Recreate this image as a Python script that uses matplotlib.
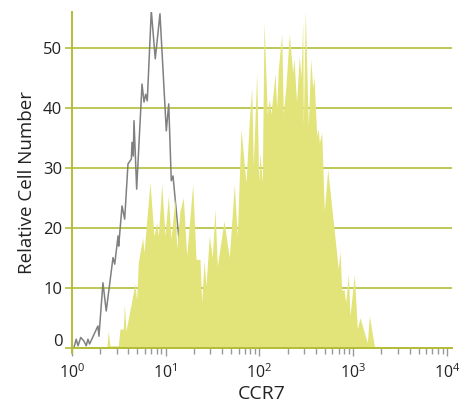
import matplotlib.pyplot as plt
from matplotlib.ticker import LogLocator, FixedLocator
import matplotlib.transforms as mtransforms

plt.rcParams["font.family"] = ["Open Sans", "DejaVu Sans"]
plt.rcParams["mathtext.fontset"] = "custom"
plt.rcParams["mathtext.rm"] = "Open Sans"
plt.rcParams["mathtext.it"] = "Open Sans:italic"
plt.rcParams["mathtext.bf"] = "Open Sans:bold"

# isotype control (grey outline)
ctrl_ccr7 = [1.05, 1.11, 1.16, 1.24, 1.34, 1.42, 1.48, 1.54, 1.89, 1.94,
             2.14, 2.32, 2.74, 2.86, 3.10, 3.15, 3.42, 3.65, 3.96, 4.30,
             4.37, 4.51, 4.59, 4.90, 5.59, 5.87, 6.12, 6.36, 7.02, 7.74,
             8.69, 10.15, 10.77, 11.47, 11.97, 13.53, 14.93, 17.30, 19.09]
ctrl_count = [0.1, 1.5, 0.4, 1.8, 1.2, 0.4, 1.5, 0.7, 3.7, 2.0,
              10.9, 6.2, 15.1, 14.0, 18.7, 17.0, 23.7, 21.5, 30.7, 31.5,
              34.3, 32.0, 37.9, 26.5, 44.0, 41.0, 42.3, 41.2, 56.2, 48.2,
              55.7, 36.2, 40.7, 27.9, 28.7, 19.8, 14.0, 6.0, 0.0]

# CCR7 stained sample (yellow fill)
ccr7 = [2.35, 2.44, 2.54, 3.12, 3.25, 3.53, 3.62, 3.77, 4.70, 4.90,
        5.10, 5.68, 5.87, 6.80, 7.50, 8.01, 8.34, 9.07, 9.83, 10.66,
        11.39, 12.57, 13.11, 14.21, 15.41, 16.76, 19.42, 21.06, 23.23, 24.23,
        25.64, 26.92, 29.19, 31.43, 33.59, 35.54, 41.90, 47.72, 53.97, 58.09,
        63.62, 71.94, 78.04, 82.78, 86.09, 93.57, 98.30, 101.5, 107.4, 112.0,
        121.4, 127.6, 133.0, 146.7, 153.0, 159.1, 173.0, 179.9, 192.2, 208.5,
        226.7, 234.1, 248.9, 266.6, 278.0, 289.9, 294.2, 309.0, 332.6, 352.8,
        370.6, 382.6, 408.8, 425.3, 435.9, 462.4, 492.7, 535.8, 591.2, 695.0,
        724.8, 755.7, 799.7, 833.7, 888.8, 926.7, 1030, 1109, 1185, 1418,
        1489, 1701]
count = [0.0, 2.9, 0.4, 0.4, 3.2, 3.2, 7.3, 2.9, 10.7, 8.0,
         14.3, 18.4, 15.9, 27.6, 18.7, 20.9, 18.7, 27.3, 18.7, 25.4,
         18.2, 25.0, 16.5, 22.9, 25.1, 15.4, 27.3, 14.8, 14.8, 7.6,
         14.6, 10.4, 18.7, 15.1, 23.2, 13.7, 21.2, 15.1, 27.3, 18.7,
         36.5, 27.6, 37.9, 43.4, 30.3, 45.9, 27.6, 32.4, 27.6, 54.3,
         39.0, 41.5, 39.0, 45.7, 40.0, 46.5, 52.3, 39.0, 43.8, 52.3,
         45.9, 48.2, 41.0, 48.7, 45.2, 54.3, 37.0, 56.2, 37.0, 48.2,
         43.4, 45.2, 35.4, 36.5, 34.2, 35.9, 22.9, 29.8, 23.5, 13.2,
         16.2, 9.6, 9.8, 7.6, 12.3, 5.4, 12.3, 3.2, 5.1, 0.9,
         5.4, 0.0]

y_ticks = [0, 10, 20, 30, 40, 50]

green = "#B3BD3A"
fill_color = "#E2E47A"

fig = plt.figure(figsize=(4.65, 4.04), dpi=100)
ax = fig.add_axes([0.1548, 0.1262, 0.8172, 0.8441])

ax.plot(ctrl_ccr7, ctrl_count, color="#808080", lw=1.1, zorder=2)
ax.fill_between(ccr7, count, 0, color=fill_color, lw=0, zorder=3)

ax.set_xscale("log")
ax.set_xlim(1, 10 ** 4.055)
ax.set_ylim(-0.8, 56)

ax.set_yticks(y_ticks)
ax.yaxis.grid(True, color=green, lw=1.2)
ax.set_axisbelow(True)

ax.xaxis.set_major_locator(FixedLocator([1, 10, 100, 1000, 10000]))
ax.xaxis.set_minor_locator(LogLocator(base=10, subs=range(2, 10)))

for side in ["top", "right"]:
    ax.spines[side].set_visible(False)
ax.spines["left"].set_color(green)
ax.spines["left"].set_linewidth(1.4)
ax.spines["bottom"].set_color(green)
ax.spines["bottom"].set_linewidth(1.4)
ax.spines["bottom"].set_position(("data", 0))
ax.spines["bottom"].set_zorder(4)

ax.tick_params(axis="y", length=5, width=1.2, color=green, pad=2,
               labelsize=12, labelcolor="#222222")
ax.tick_params(axis="x", which="major", length=6, width=1, color="#999999",
               pad=5, labelsize=11.5, labelcolor="#222222")
ax.tick_params(axis="x", which="minor", length=4.5, width=1, color="#999999")

# the zero label sits a little above its tick
for lab in ax.get_yticklabels():
    if lab.get_text() == "0":
        lab.set_transform(lab.get_transform() +
                          mtransforms.ScaledTranslation(0, 8 / 100, fig.dpi_scale_trans))

ax.set_xlabel("CCR7", fontsize=14, color="#222222", labelpad=2)
ax.set_ylabel("Relative Cell Number", fontsize=13.5, color="#222222", labelpad=5)

plt.savefig("out.png", dpi=100)
